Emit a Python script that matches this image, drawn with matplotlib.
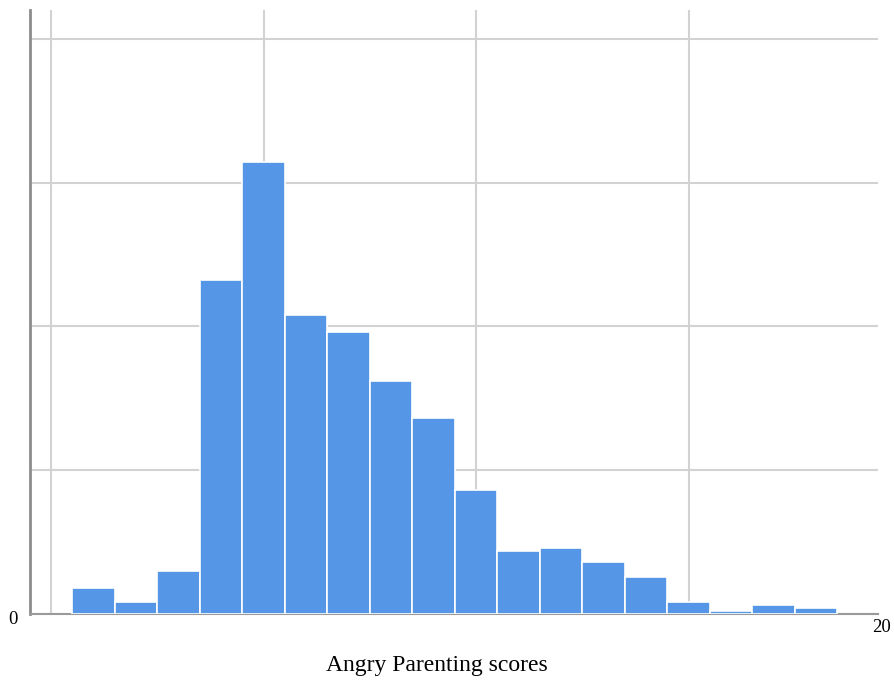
import numpy as np
import matplotlib.pyplot as plt

# Histogram counts, one bin per score
scores = np.arange(6, 24)
counts = [9, 4, 15, 116, 157, 104, 98, 81, 68, 43, 22, 23, 18, 13, 4, 1.2, 3, 2]
x_ticks = [5, 10, 15, 20]
y_ticks = [0, 50, 100, 150, 200]

plt.rcParams['font.family'] = ['Liberation Serif', 'DejaVu Serif']

fig = plt.figure(figsize=(8.95, 6.81), dpi=100)
ax = fig.add_axes([30 / 895, 67 / 681, 848 / 895, 604 / 681])

ax.bar(scores, counts, width=1.0, color='#5696e6', edgecolor='white', linewidth=1.2, zorder=3)

ax.set_xlim(4.5, 24.46)
ax.set_ylim(0, 210)
ax.set_xticks(x_ticks)
ax.set_yticks(y_ticks)
ax.set_xticklabels([])
ax.set_yticklabels([])
ax.tick_params(length=0)
ax.grid(True, color='#d2d2d2', linewidth=1.5, zorder=0)

for s in ['top', 'right']:
    ax.spines[s].set_visible(False)
ax.spines['left'].set_color('#8c8c8c')
ax.spines['left'].set_linewidth(2)
ax.spines['bottom'].set_color('#9a9a9a')
ax.spines['bottom'].set_linewidth(1.5)

fig.text(13 / 895, 1 - 620 / 681, '0', fontsize=13.5, ha='center', va='center')
fig.text(882 / 895, 1 - 628 / 681, '20', fontsize=13.5, ha='center', va='center')
fig.text(437 / 895, 1 - 665 / 681, 'Angry Parenting scores', fontsize=17, ha='center', va='center')

fig.savefig('out.png', dpi=100)
